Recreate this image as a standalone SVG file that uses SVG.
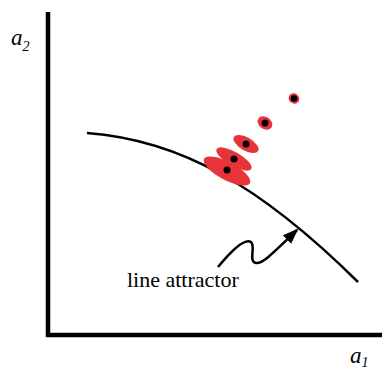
<svg xmlns="http://www.w3.org/2000/svg" width="382" height="369" viewBox="0 0 382 369">
<style>
.axis{stroke:#000;stroke-width:4.5;fill:none}
.curve{stroke:#000;stroke-width:2.5;fill:none}
.blob{fill:#e8333a}
.dot{fill:#000}
.lbl{font-family:"Liberation Serif",serif;fill:#000}
</style>
<defs>
<marker id="ah" markerWidth="16" markerHeight="12" refX="14" refY="6" orient="auto" markerUnits="userSpaceOnUse">
<path d="M0,0 L16,6 L0,12 Z" fill="#000"/>
</marker>
</defs>
<g id="axes">
<line class="axis" x1="48" y1="12" x2="48" y2="337"/>
<line class="axis" x1="46" y1="335" x2="382" y2="335"/>
</g>
<g id="connectors">
<path class="curve" d="M87,133 C180,140 260,185 358,282"/>
<path class="curve" d="M218,267 C232,250 245,238 251,242 C256,246 248,262 256,263 C263,264 274,252 297,230" marker-end="url(#ah)"/>
</g>
<g id="states">
<g id="s1"><ellipse class="blob" cx="227" cy="171" rx="26" ry="9" transform="rotate(28 227 171)"/><circle class="dot" cx="227" cy="170" r="3.5"/></g>
<g id="s2"><ellipse class="blob" cx="234" cy="159" rx="20" ry="7" transform="rotate(30 234 159)"/><circle class="dot" cx="234" cy="159" r="3.5"/></g>
<g id="s3"><ellipse class="blob" cx="246" cy="144" rx="14" ry="6.5" transform="rotate(30 246 144)"/><circle class="dot" cx="246" cy="144" r="3.5"/></g>
<g id="s4"><ellipse class="blob" cx="265" cy="123" rx="8" ry="6" transform="rotate(35 265 123)"/><circle class="dot" cx="265" cy="123" r="3.5"/></g>
<g id="s5"><ellipse class="blob" cx="294" cy="98.5" rx="5.5" ry="5" transform="rotate(35 294 98.5)"/><circle class="dot" cx="294" cy="98.5" r="3.3"/></g>
</g>
<g id="labels">
<text class="lbl" x="127" y="287" font-size="22">line attractor</text>
<text class="lbl" x="11" y="45" font-size="23" font-style="italic">a<tspan font-size="14" dy="6">2</tspan></text>
<text class="lbl" x="350" y="363" font-size="23" font-style="italic">a<tspan font-size="14" dy="4">1</tspan></text>
</g>
</svg>
